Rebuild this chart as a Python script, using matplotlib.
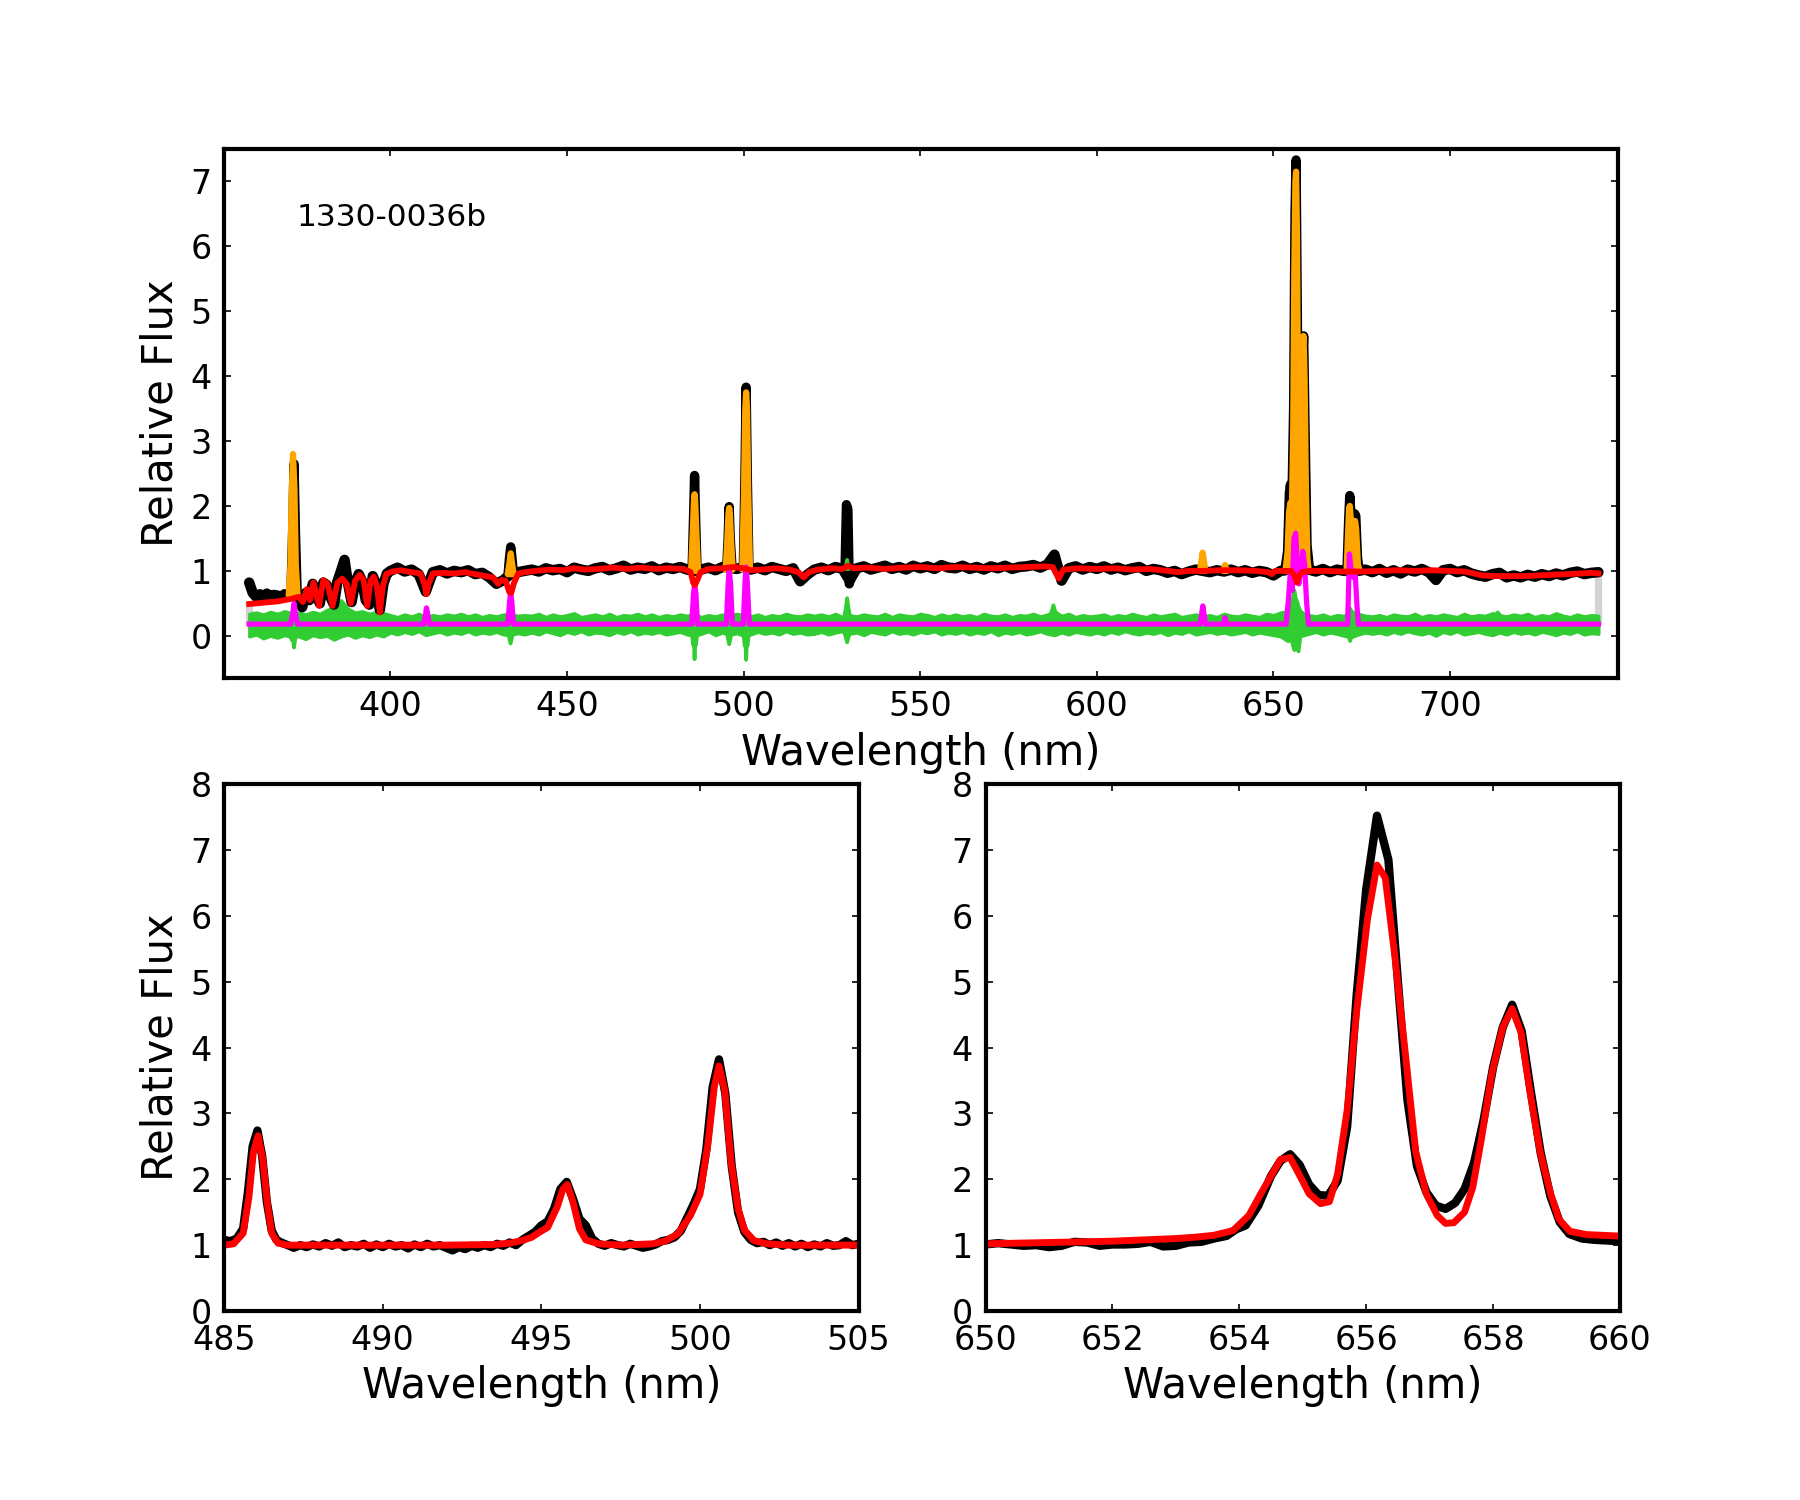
import numpy as np
import matplotlib
matplotlib.use("Agg")
import matplotlib.pyplot as plt

plt.rcParams['font.family'] = ['DejaVu Sans']
nan = np.nan

# ---------------- top panel data ----------------
label_text = "1330-0036b"

# observed spectrum, 1-nm sampling 360-399 nm
blue_wave = np.arange(360.0, 400.0, 1.0)
blue_flux = [0.82, 0.66, 0.60, 0.64, 0.61, 0.65, 0.60, 0.63, 0.62, 0.59,
             0.64, 0.62, 0.66, 0.64, 0.60, 0.44, 0.66, 0.55, 0.80, 0.62,
             0.50, 0.82, 0.78, 0.60, 0.48, 0.84, 1.00, 1.17, 0.80, 0.52,
             0.82, 0.95, 0.84, 0.55, 0.48, 0.92, 0.78, 0.40, 0.80, 0.96]
# observed spectrum, 2-nm sampling 400-742 nm
main_wave = np.arange(400.0, 743.0, 2.0)
main_flux = [1.00, 1.05, 0.99, 1.02, 0.95, 0.68, 0.98, 1.01, 0.96, 1.00,
             0.98, 1.01, 0.95, 0.97, 0.90, 0.80, 0.86, 0.95, 0.98, 1.00,
             1.02, 0.99, 1.04, 1.01, 1.03, 0.98, 1.05, 1.02, 1.00, 1.04,
             1.06, 1.01, 1.04, 1.08, 1.02, 1.05, 1.03, 1.07, 1.01, 1.05,
             1.03, 1.06, 1.02, 1.00, 1.02, 1.05, 1.01, 1.06, 1.05, 1.03,
             1.06, 1.02, 1.05, 1.01, 1.06, 1.03, 1.00, 1.04, 0.84, 0.94,
             1.02, 1.05, 1.01, 1.06, 1.03, 0.85, 1.04, 1.07, 1.02, 1.05,
             1.08, 1.03, 1.06, 1.02, 1.08, 1.04, 1.07, 1.03, 1.09, 1.05,
             1.04, 1.08, 1.03, 1.06, 1.02, 1.07, 1.04, 1.08, 1.03, 1.06,
             1.07, 1.09, 1.05, 1.10, 1.25, 0.85, 1.04, 1.07, 1.02, 1.06,
             1.03, 1.07, 1.02, 1.05, 1.01, 1.04, 1.06, 1.00, 1.03, 1.01,
             0.97, 1.00, 0.95, 0.99, 1.02, 1.00, 0.98, 1.01, 0.99, 1.02,
             0.98, 1.01, 0.97, 1.00, 0.98, 0.93, 1.00, 1.02, 1.00, 1.00,
             1.02, 0.99, 1.03, 0.98, 1.02, 1.00, 1.00, 1.00, 1.02, 0.98,
             1.03, 0.97, 1.01, 0.96, 1.02, 0.99, 1.03, 0.98, 0.86, 1.01,
             1.03, 0.98, 1.01, 0.96, 0.93, 0.91, 0.95, 0.97, 0.90, 0.93,
             0.90, 0.94, 0.91, 0.95, 0.92, 0.96, 0.93, 0.97, 0.99, 0.95,
             0.97, 0.98]

# emission-line peaks of the observed spectrum (NaN separates lines)
peak_pts = [(371.8, 0.64), (372.3, 1.60), (372.7, 2.65), (373.1, 1.60), (373.6, 0.62), (nan, nan),
            (433.3, 0.95), (433.7, 1.20), (434.05, 1.37), (434.4, 1.20), (434.8, 0.97), (nan, nan),
            (485.4, 1.02), (485.8, 1.80), (486.1, 2.47), (486.4, 1.80), (486.8, 1.03), (nan, nan),
            (495.2, 1.05), (495.6, 1.50), (495.9, 1.99), (496.2, 1.50), (496.7, 1.05), (nan, nan),
            (499.9, 1.05), (500.35, 2.40), (500.7, 3.83), (501.05, 2.40), (501.5, 1.05), (nan, nan),
            (528.7, 1.03), (529.1, 2.02), (529.5, 1.95), (529.9, 0.80), (530.5, 0.95), (nan, nan),
            (653.2, 1.00), (654.0, 1.30), (654.5, 2.20), (654.8, 2.33), (655.2, 2.00), (655.7, 3.50),
            (656.1, 6.50), (656.4, 7.33), (656.9, 4.00), (657.4, 2.00), (657.9, 2.80), (658.3, 4.30),
            (658.55, 4.62), (659.0, 3.00), (659.5, 1.40), (660.2, 1.02), (nan, nan),
            (670.8, 1.00), (671.3, 1.80), (671.6, 2.16), (672.0, 1.80), (672.5, 1.60), (673.0, 1.88),
            (673.3, 1.85), (673.8, 1.20), (674.3, 1.00)]

# continuum fit (red)
red_pts = [(360.0, 0.49), (362.0, 0.50), (364.0, 0.51), (366.0, 0.52), (368.0, 0.53), (370.0, 0.55),
           (372.0, 0.57), (374.0, 0.60), (375.2, 0.52), (376.3, 0.72), (377.2, 0.55), (378.2, 0.82),
           (379.8, 0.46), (381.0, 0.86), (382.2, 0.80), (383.6, 0.46), (385.0, 0.82), (386.4, 0.88),
           (387.6, 0.80), (388.8, 0.50), (390.0, 0.85), (391.3, 0.94), (392.4, 0.86), (393.4, 0.46),
           (394.4, 0.85), (395.3, 0.91), (396.2, 0.75), (397.0, 0.36), (397.8, 0.75), (398.8, 0.95),
           (400.5, 0.99), (403.0, 1.01), (406.0, 0.98), (408.5, 0.96), (409.6, 0.80), (410.2, 0.64),
           (410.8, 0.80), (412.0, 0.96), (415.0, 0.97), (418.0, 0.96), (421.0, 0.98), (424.0, 0.95),
           (427.0, 0.92), (429.0, 0.90), (430.5, 0.80), (431.5, 0.86), (432.6, 0.85), (433.6, 0.68),
           (434.2, 0.66), (435.0, 0.82), (436.2, 0.96), (438.0, 0.98), (441.0, 1.00), (445.0, 1.02),
           (449.0, 1.01), (452.0, 1.04), (455.0, 1.02), (459.0, 1.03), (463.0, 1.05), (467.0, 1.03),
           (471.0, 1.05), (475.0, 1.03), (479.0, 1.04), (483.0, 1.03), (485.0, 0.98), (485.7, 0.82),
           (486.2, 0.78), (486.8, 0.85), (487.8, 0.98), (490.0, 1.03), (494.0, 1.04), (497.0, 1.06),
           (500.0, 1.04), (502.0, 1.01), (505.0, 1.02), (509.0, 1.04), (513.0, 1.02), (515.5, 0.98),
           (517.0, 0.90), (518.5, 0.98), (521.0, 1.02), (525.0, 1.04), (528.0, 1.03), (529.5, 1.08),
           (531.0, 1.04), (535.0, 1.05), (540.0, 1.03), (545.0, 1.05), (550.0, 1.06), (555.0, 1.04),
           (560.0, 1.06), (565.0, 1.05), (570.0, 1.04), (575.0, 1.05), (580.0, 1.06), (585.0, 1.07),
           (587.5, 1.06), (589.2, 0.88), (590.5, 1.02), (595.0, 1.04), (600.0, 1.03), (605.0, 1.04),
           (610.0, 1.02), (615.0, 1.03), (620.0, 1.00), (623.0, 0.98), (626.0, 1.00), (630.0, 1.00),
           (635.0, 1.01), (640.0, 1.01), (645.0, 1.00), (648.5, 0.98), (649.5, 0.95), (650.5, 1.00),
           (653.0, 1.00), (655.0, 1.00), (656.0, 0.92), (656.6, 0.82), (657.3, 0.93), (658.0, 0.98),
           (660.0, 1.00), (665.0, 1.00), (670.0, 0.99), (675.0, 0.99), (680.0, 1.00), (685.0, 1.01),
           (690.0, 1.00), (695.0, 1.01), (700.0, 1.00), (704.0, 0.99), (706.0, 0.97), (709.0, 0.93),
           (713.0, 0.92), (717.0, 0.92), (721.0, 0.92), (725.0, 0.93), (729.0, 0.94), (733.0, 0.95),
           (737.0, 0.96), (740.0, 0.97), (742.0, 0.96)]

# emission-line model on top of continuum (orange): wave, lower, upper
orange_pts = [(371.2, 0.62, 0.62), (371.7, 0.62, 1.10), (372.0, 0.62, 2.10), (372.4, 0.62, 2.80),
              (372.8, 0.62, 2.30), (373.2, 0.62, 1.10), (373.7, 0.62, 0.62), (nan, nan, nan),
              (433.2, 0.95, 0.95), (433.7, 0.95, 1.12), (434.05, 0.95, 1.27), (434.4, 0.95, 1.12),
              (434.9, 0.95, 0.95), (nan, nan, nan),
              (485.1, 1.00, 1.00), (485.6, 1.00, 1.60), (485.9, 1.00, 2.05), (486.1, 1.00, 2.18),
              (486.3, 1.00, 2.05), (486.6, 1.00, 1.60), (487.1, 1.00, 1.00), (nan, nan, nan),
              (494.9, 1.02, 1.02), (495.4, 1.02, 1.50), (495.7, 1.02, 1.88), (495.9, 1.02, 1.97),
              (496.1, 1.02, 1.88), (496.4, 1.02, 1.50), (496.9, 1.02, 1.02), (nan, nan, nan),
              (499.6, 1.02, 1.02), (500.1, 1.02, 2.20), (500.45, 1.02, 3.50), (500.7, 1.02, 3.75),
              (500.95, 1.02, 3.50), (501.3, 1.02, 2.20), (501.8, 1.02, 1.02), (nan, nan, nan),
              (629.2, 1.00, 1.00), (629.6, 1.00, 1.15), (629.95, 1.00, 1.28), (630.3, 1.00, 1.15),
              (630.7, 1.00, 1.00), (nan, nan, nan),
              (635.8, 1.00, 1.00), (636.3, 1.00, 1.09), (636.8, 1.00, 1.00), (nan, nan, nan),
              (653.4, 1.00, 1.00), (654.0, 1.00, 1.30), (654.4, 1.00, 1.90), (654.8, 1.00, 2.05),
              (655.2, 1.00, 1.90), (655.6, 1.00, 3.20), (655.9, 1.00, 5.60), (656.2, 1.00, 7.00),
              (656.4, 1.00, 7.15), (656.65, 1.00, 6.20), (656.95, 1.00, 3.50), (657.3, 1.00, 2.20),
              (657.6, 1.00, 2.10), (657.95, 1.00, 3.20), (658.25, 1.00, 4.40), (658.5, 1.00, 4.62),
              (658.8, 1.00, 4.00), (659.2, 1.00, 2.20), (659.6, 1.00, 1.20), (660.0, 1.00, 1.00),
              (nan, nan, nan),
              (670.7, 1.00, 1.00), (671.1, 1.00, 1.55), (671.4, 1.00, 1.95), (671.6, 1.00, 2.00),
              (671.9, 1.00, 1.80), (672.3, 1.00, 1.55), (672.8, 1.00, 1.70), (673.1, 1.00, 1.77),
              (673.4, 1.00, 1.65), (673.9, 1.00, 1.10), (674.4, 1.00, 1.00)]

# line model, offset (magenta)
mag_pts = [(360.0, 0.18), (371.7, 0.18), (372.2, 0.30), (372.7, 0.50), (373.2, 0.30), (373.7, 0.18),
           (409.4, 0.18), (409.9, 0.32), (410.2, 0.43), (410.6, 0.32), (411.0, 0.18),
           (433.2, 0.18), (433.7, 0.50), (434.0, 0.68), (434.4, 0.50), (434.8, 0.18),
           (485.3, 0.18), (485.8, 0.65), (486.1, 0.80), (486.5, 0.65), (486.9, 0.18),
           (495.1, 0.18), (495.6, 0.80), (495.9, 1.03), (496.3, 0.80), (496.8, 0.18),
           (499.9, 0.18), (500.4, 0.85), (500.7, 1.06), (501.0, 0.85), (501.6, 0.18),
           (629.3, 0.18), (629.7, 0.35), (630.0, 0.46), (630.3, 0.35), (630.8, 0.18),
           (635.9, 0.18), (636.3, 0.28), (636.7, 0.18),
           (653.6, 0.18), (654.3, 0.60), (654.8, 1.00), (655.3, 0.70), (655.8, 1.50), (656.3, 1.58),
           (656.8, 1.00), (657.2, 0.80), (657.7, 1.00), (658.3, 1.30), (658.8, 1.10), (659.4, 0.50),
           (659.9, 0.18),
           (671.0, 0.18), (671.5, 1.26), (672.0, 1.00), (672.6, 0.90), (673.1, 1.00), (673.6, 0.50),
           (674.0, 0.18), (742.0, 0.18)]

# residual band (green), 2-nm sampling 360-742 nm
green_wave = np.arange(360.0, 743.0, 2.0)
green_hi = [0.34, 0.36, 0.33, 0.37, 0.34, 0.38, 0.35, 0.36, 0.33, 0.37,
            0.34, 0.40, 0.44, 0.55, 0.42, 0.36, 0.38, 0.34, 0.37, 0.35,
            0.32, 0.29, 0.33, 0.30, 0.34, 0.29, 0.32, 0.30, 0.33, 0.31,
            0.34, 0.30, 0.33, 0.29, 0.32, 0.30, 0.33, 0.34, 0.31, 0.32,
            0.31, 0.34, 0.29, 0.33, 0.30, 0.32, 0.35, 0.29, 0.31, 0.33,
            0.30, 0.34, 0.29, 0.32, 0.31, 0.34, 0.30, 0.33, 0.29, 0.32,
            0.30, 0.33, 0.31, 0.34, 0.29, 0.32, 0.30, 0.33, 0.31, 0.34,
            0.32, 0.30, 0.33, 0.29, 0.32, 0.30, 0.34, 0.31, 0.30, 0.33,
            0.31, 0.33, 0.30, 0.34, 0.29, 0.32, 0.30, 0.33, 0.31, 0.30,
            0.34, 0.29, 0.33, 0.31, 0.30, 0.34, 0.32, 0.29, 0.33, 0.30,
            0.33, 0.30, 0.32, 0.29, 0.34, 0.31, 0.30, 0.33, 0.29, 0.32,
            0.31, 0.34, 0.30, 0.33, 0.38, 0.31, 0.34, 0.29, 0.32, 0.30,
            0.31, 0.33, 0.29, 0.32, 0.30, 0.34, 0.31, 0.29, 0.33, 0.30,
            0.32, 0.34, 0.29, 0.31, 0.33, 0.30, 0.32, 0.29, 0.34, 0.31,
            0.30, 0.33, 0.31, 0.29, 0.34, 0.32, 0.36, 0.38, 0.40, 0.35,
            0.32, 0.30, 0.33, 0.29, 0.32, 0.31, 0.38, 0.34, 0.31, 0.30,
            0.32, 0.29, 0.33, 0.31, 0.30, 0.34, 0.29, 0.32, 0.30, 0.33,
            0.31, 0.29, 0.34, 0.30, 0.32, 0.31, 0.35, 0.32, 0.30, 0.33,
            0.31, 0.34, 0.29, 0.32, 0.30, 0.35, 0.31, 0.29, 0.33, 0.30,
            0.32, 0.31]
green_lo = [-0.01, 0.02, -0.04, 0.00, -0.03, 0.01, -0.02, -0.01, -0.05, 0.01,
            -0.02, 0.00, -0.06, -0.01, 0.02, -0.03, 0.01, -0.02, 0.02, -0.01,
            0.05, 0.02, 0.06, 0.03, 0.07, 0.01, 0.04, 0.06, 0.02, 0.05,
            0.03, 0.07, 0.02, 0.05, 0.03, 0.06, 0.02, 0.01, 0.04, 0.02,
            0.05, 0.02, 0.07, 0.04, 0.01, 0.06, 0.03, 0.07, 0.02, 0.05,
            0.04, 0.01, 0.06, 0.03, 0.07, 0.02, 0.05, 0.03, 0.06, 0.02,
            0.04, 0.06, 0.02, 0.00, 0.03, 0.07, 0.01, 0.05, 0.01, 0.04,
            0.00, 0.02, 0.06, 0.03, 0.05, 0.02, 0.07, 0.03, 0.05, 0.02,
            0.03, 0.06, 0.02, 0.05, 0.07, 0.03, 0.05, 0.01, 0.06, 0.04,
            0.02, 0.07, 0.03, 0.05, 0.02, 0.06, 0.04, 0.07, 0.02, 0.05,
            0.03, 0.06, 0.02, 0.05, 0.03, 0.07, 0.01, 0.05, 0.03, 0.06,
            0.02, 0.04, 0.07, 0.03, 0.01, 0.05, 0.02, 0.06, 0.04, 0.02,
            0.05, 0.02, 0.06, 0.03, 0.07, 0.04, 0.02, 0.05, 0.03, 0.06,
            0.01, 0.05, 0.03, 0.07, 0.02, 0.04, 0.06, 0.03, 0.05, 0.02,
            0.04, 0.06, 0.02, 0.05, 0.03, 0.01, -0.01, -0.08, -0.03, 0.00,
            0.03, 0.06, 0.02, 0.05, 0.03, 0.00, -0.02, 0.02, 0.05, 0.03,
            0.05, 0.02, 0.06, 0.03, 0.07, 0.04, 0.02, 0.05, 0.00, 0.06,
            0.03, 0.07, 0.02, 0.04, 0.06, 0.03, 0.01, 0.05, 0.02, 0.06,
            0.03, 0.05, 0.02, 0.06, 0.04, 0.01, 0.05, 0.03, 0.07, 0.02,
            0.04, 0.03]

# residual spikes at strong lines: wave, lower, upper
spike_pts = [(371.5, 0.05, 0.15), (372.0, -0.06, 0.15), (372.3, -0.02, 0.15), (372.7, -0.18, 0.15),
             (373.1, -0.02, 0.15), (373.6, 0.05, 0.15), (nan, nan, nan),
             (433.3, 0.05, 0.15), (434.0, -0.12, 0.15), (434.7, 0.05, 0.15), (nan, nan, nan),
             (485.3, 0.05, 0.15), (485.7, -0.14, 0.15), (485.9, -0.10, 0.15), (486.1, -0.36, 0.15),
             (486.3, -0.10, 0.15), (486.5, -0.14, 0.15), (486.9, 0.05, 0.15), (nan, nan, nan),
             (495.2, 0.05, 0.15), (495.9, -0.13, 0.15), (496.6, 0.05, 0.15), (nan, nan, nan),
             (499.9, 0.05, 0.15), (500.3, -0.15, 0.15), (500.5, -0.10, 0.15), (500.7, -0.37, 0.15),
             (500.9, -0.10, 0.15), (501.1, -0.15, 0.15), (501.5, 0.05, 0.15), (nan, nan, nan),
             (528.5, 0.05, 0.30), (529.0, -0.04, 0.45), (529.3, -0.10, 0.58), (529.6, -0.04, 0.45),
             (530.1, 0.05, 0.30), (nan, nan, nan),
             (528.8, 1.03, 1.03), (529.3, 1.03, 1.17), (529.8, 1.03, 1.03), (nan, nan, nan),
             (586.9, 0.20, 0.32), (587.7, 0.20, 0.47), (588.5, 0.20, 0.32), (nan, nan, nan),
             (654.2, 0.05, 0.35), (654.9, -0.04, 0.45), (655.4, -0.12, 0.55), (655.9, -0.22, 0.70),
             (656.3, -0.10, 0.58), (656.7, -0.20, 0.52), (657.1, -0.24, 0.45), (657.6, -0.02, 0.38),
             (658.3, 0.05, 0.35), (nan, nan, nan),
             (670.9, 0.05, 0.32), (671.7, -0.08, 0.42), (672.5, 0.05, 0.32), (nan, nan, nan),
             (712.9, 0.20, 0.32), (713.5, 0.20, 0.36), (714.1, 0.20, 0.32)]

# light-grey end markers
edge_wave = [360.0, 742.0]
edge_lo = [0.18, 0.18]
edge_hi = [0.50, 0.97]

# ---------------- bottom-left panel (H-beta / [OIII]) ----------------
bl_black_pts = [(485.0, 1.08), (485.2, 1.06), (485.4, 1.10), (485.6, 1.25), (485.75, 1.80), (485.9, 2.50),
                (486.05, 2.74), (486.2, 2.35), (486.35, 1.65), (486.5, 1.22), (486.65, 1.08), (486.8, 1.04),
                (487.0, 1.00), (487.2, 0.96), (487.4, 1.00), (487.6, 0.97), (487.8, 1.01), (488.0, 0.98),
                (488.2, 1.03), (488.4, 0.99), (488.6, 1.04), (488.8, 0.97), (489.0, 1.00), (489.2, 0.98),
                (489.4, 1.02), (489.6, 0.96), (489.8, 1.01), (490.0, 0.97), (490.2, 1.02), (490.4, 0.98),
                (490.6, 1.00), (490.8, 0.95), (491.0, 1.01), (491.2, 0.97), (491.4, 1.02), (491.6, 0.98),
                (491.8, 1.00), (492.0, 0.96), (492.2, 0.92), (492.4, 0.97), (492.6, 0.94), (492.8, 0.99),
                (493.0, 0.96), (493.2, 1.00), (493.4, 0.97), (493.6, 1.02), (493.8, 0.99), (494.0, 1.04),
                (494.2, 1.00), (494.4, 1.08), (494.6, 1.14), (494.8, 1.20), (495.0, 1.30), (495.2, 1.36),
                (495.4, 1.55), (495.6, 1.85), (495.8, 1.96), (496.0, 1.70), (496.2, 1.40), (496.4, 1.30),
                (496.6, 1.10), (496.8, 1.02), (497.0, 0.99), (497.2, 1.03), (497.4, 1.00), (497.6, 0.98),
                (497.8, 1.02), (498.0, 0.99), (498.2, 0.96), (498.4, 0.98), (498.6, 1.01), (498.8, 1.06),
                (499.0, 1.08), (499.2, 1.12), (499.4, 1.22), (499.6, 1.42), (499.8, 1.62), (500.0, 1.85),
                (500.2, 2.45), (500.4, 3.40), (500.6, 3.82), (500.8, 3.30), (501.0, 2.20), (501.2, 1.50),
                (501.4, 1.20), (501.6, 1.08), (501.8, 1.03), (502.0, 1.05), (502.2, 1.00), (502.4, 1.04),
                (502.6, 0.99), (502.8, 1.03), (503.0, 0.98), (503.2, 1.02), (503.4, 0.97), (503.6, 1.01),
                (503.8, 0.98), (504.0, 1.03), (504.2, 0.99), (504.4, 1.00), (504.6, 1.06), (504.8, 1.00),
                (505.0, 1.02)]
bl_red_pts = [(485.0, 1.00), (485.3, 1.02), (485.6, 1.18), (485.78, 1.72), (485.92, 2.40), (486.07, 2.66),
              (486.22, 2.30), (486.37, 1.61), (486.5, 1.18), (486.7, 1.03), (487.0, 1.00), (488.0, 1.00),
              (490.0, 1.00), (492.0, 1.00), (493.5, 1.01), (494.0, 1.03), (494.4, 1.07), (494.7, 1.12),
              (494.95, 1.20), (495.2, 1.27), (495.5, 1.58), (495.68, 1.85), (495.82, 1.92), (496.0, 1.65),
              (496.2, 1.25), (496.4, 1.08), (496.8, 1.02), (497.5, 1.00), (498.5, 1.02), (498.9, 1.06),
              (499.3, 1.17), (499.7, 1.45), (500.0, 1.77), (500.25, 2.53), (500.45, 3.40), (500.6, 3.72),
              (500.78, 3.35), (500.98, 2.26), (501.2, 1.56), (501.4, 1.23), (501.7, 1.07), (502.1, 1.02),
              (502.8, 1.00), (505.0, 1.00)]

# ---------------- bottom-right panel (H-alpha / [NII]) ----------------
br_black_pts = [(650.0, 1.01), (650.2, 1.03), (650.4, 1.01), (650.6, 0.99), (650.8, 1.00), (651.0, 0.97),
                (651.2, 0.99), (651.4, 1.05), (651.6, 1.04), (651.8, 0.99), (652.0, 1.01), (652.2, 1.01),
                (652.4, 1.02), (652.6, 1.05), (652.8, 0.98), (653.0, 0.99), (653.2, 1.04), (653.4, 1.05),
                (653.6, 1.10), (653.8, 1.14), (653.95, 1.24), (654.1, 1.30), (654.3, 1.60), (654.5, 2.05),
                (654.65, 2.28), (654.8, 2.38), (654.95, 2.22), (655.1, 1.92), (655.25, 1.76), (655.4, 1.75),
                (655.55, 1.98), (655.7, 2.80), (655.85, 4.80), (656.0, 6.40), (656.17, 7.52), (656.35, 6.85),
                (656.5, 5.00), (656.65, 3.20), (656.8, 2.20), (656.95, 1.80), (657.1, 1.60), (657.25, 1.55),
                (657.4, 1.64), (657.55, 1.85), (657.7, 2.25), (657.85, 2.90), (658.0, 3.70), (658.15, 4.30),
                (658.3, 4.65), (658.45, 4.25), (658.6, 3.30), (658.75, 2.40), (658.9, 1.75), (659.05, 1.35),
                (659.2, 1.17), (659.4, 1.10), (659.6, 1.08), (659.8, 1.07), (660.0, 1.06)]
br_red_pts = [(650.0, 1.02), (650.5, 1.03), (651.0, 1.04), (651.5, 1.05), (652.0, 1.06), (652.5, 1.08),
              (653.0, 1.10), (653.3, 1.12), (653.6, 1.15), (653.9, 1.22), (654.15, 1.45), (654.35, 1.80),
              (654.5, 2.05), (654.65, 2.30), (654.8, 2.33), (654.95, 2.06), (655.1, 1.78), (655.28, 1.63),
              (655.42, 1.66), (655.55, 2.08), (655.7, 3.05), (655.85, 4.55), (656.02, 5.95), (656.17, 6.77),
              (656.3, 6.58), (656.45, 5.40), (656.62, 3.88), (656.78, 2.42), (656.95, 1.77), (657.12, 1.45),
              (657.25, 1.33), (657.38, 1.34), (657.55, 1.50), (657.68, 1.88), (657.81, 2.58), (657.98, 3.60),
              (658.15, 4.30), (658.3, 4.59), (658.44, 4.23), (658.58, 3.33), (658.74, 2.42), (658.91, 1.77),
              (659.04, 1.39), (659.21, 1.21), (659.47, 1.16), (659.94, 1.14), (660.0, 1.14)]

top_xticks = [400, 450, 500, 550, 600, 650, 700]
top_yticks = [0, 1, 2, 3, 4, 5, 6, 7]
bl_xticks = [485, 490, 495, 500, 505]
br_xticks = [650, 652, 654, 656, 658, 660]
bot_yticks = [0, 1, 2, 3, 4, 5, 6, 7, 8]


def cols(pts):
    a = np.array(pts, dtype=float)
    return [a[:, i] for i in range(a.shape[1])]


fig = plt.figure(figsize=(12, 10), dpi=150)
ax_top = fig.add_axes([0.1245, 0.548, 0.7745, 0.3527])
ax_bl = fig.add_axes([0.1245, 0.126, 0.3525, 0.3513])
ax_br = fig.add_axes([0.5475, 0.126, 0.3525, 0.3513])


def style(ax):
    for s in ax.spines.values():
        s.set_linewidth(2.0)
    ax.tick_params(direction='in', top=True, right=True, length=3.5, width=0.8,
                   labelsize=16, pad=6)


GREEN = '#32cd32'

# --- top panel ---
ax = ax_top
ax.vlines(edge_wave, edge_lo, edge_hi, color='#d3d3d3', lw=3.5, zorder=1)
ax.fill_between(green_wave, green_lo, green_hi, facecolor=GREEN, edgecolor=GREEN, lw=1.5, zorder=2)
bw = np.concatenate([blue_wave, main_wave])
bf = np.concatenate([blue_flux, main_flux])
ax.plot(bw, bf, color='black', lw=5.0, zorder=3, solid_joinstyle='round', solid_capstyle='round')
pw, pf = cols(peak_pts)
ax.plot(pw, pf, color='black', lw=4.5, zorder=3, solid_joinstyle='round', solid_capstyle='round')
ow, olo, ohi = cols(orange_pts)
ax.fill_between(ow, olo, ohi, facecolor='orange', edgecolor='orange', lw=3.0,
                joinstyle='round', zorder=4)
sw, slo, shi = cols(spike_pts)
ax.fill_between(sw, slo, shi, facecolor=GREEN, edgecolor=GREEN, lw=1.8, zorder=5)
mw, mf = cols(mag_pts)
ax.plot(mw, mf, color='magenta', lw=2.5, zorder=6)
rw, rf = cols(red_pts)
ax.plot(rw, rf, color='red', lw=2.8, zorder=7)
ax.set_xlim(352.9, 747.6)
ax.set_ylim(-0.65, 7.5)
ax.set_xticks(top_xticks)
ax.set_yticks(top_yticks)
ax.set_xlabel('Wavelength (nm)', fontsize=20)
ax.set_ylabel('Relative Flux', fontsize=20)
ax.text(0.052, 0.87, label_text, transform=ax.transAxes, fontsize=15, va='center', ha='left')
style(ax)

# --- bottom-left ---
ax = ax_bl
x, y = cols(bl_black_pts)
ax.plot(x, y, color='black', lw=4.0)
x, y = cols(bl_red_pts)
ax.plot(x, y, color='red', lw=3.3)
ax.set_xlim(485, 505)
ax.set_ylim(0, 8)
ax.set_xticks(bl_xticks)
ax.set_yticks(bot_yticks)
ax.set_xlabel('Wavelength (nm)', fontsize=20)
ax.set_ylabel('Relative Flux', fontsize=20)
style(ax)

# --- bottom-right ---
ax = ax_br
x, y = cols(br_black_pts)
ax.plot(x, y, color='black', lw=4.0)
x, y = cols(br_red_pts)
ax.plot(x, y, color='red', lw=3.3)
ax.set_xlim(650, 660)
ax.set_ylim(0, 8)
ax.set_xticks(br_xticks)
ax.set_yticks(bot_yticks)
ax.set_xlabel('Wavelength (nm)', fontsize=20)
style(ax)

fig.savefig('out.png', dpi=150)
